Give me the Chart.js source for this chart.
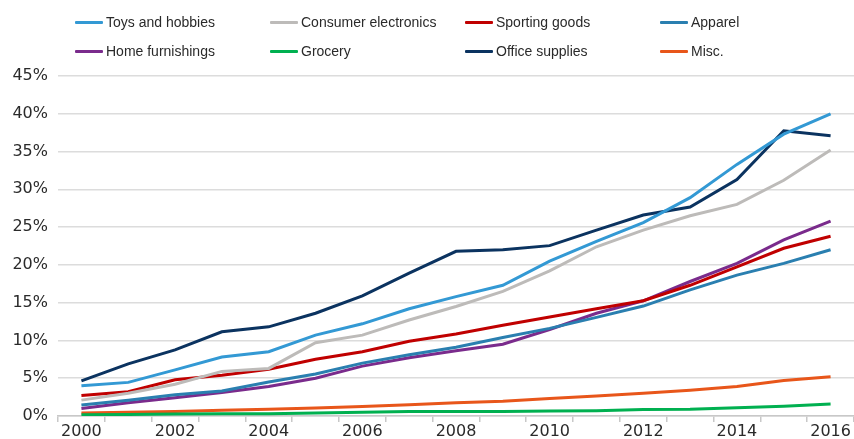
<!DOCTYPE html>
<html>
<head>
<meta charset="utf-8">
<script src="https://cdn.jsdelivr.net/npm/chart.js@4.4.0/dist/chart.umd.min.js"></script>
<style>
  html, body { margin: 0; padding: 0; background: #fff; }
  .wrap { position: relative; width: 854px; height: 439px; }
  .legend .item {
    position: absolute; height: 18px; display: flex; align-items: center;
    font: 14px "Liberation Sans", Arial, sans-serif; color: #2a2a2a;
    white-space: nowrap;
  }
  .legend .sw { width: 28px; height: 3px; margin-right: 3px; border-radius: 1px; }
</style>
</head>
<body>
<div class="wrap">
  <canvas id="myChart" width="854" height="439"></canvas>
  <div class="legend" id="legend"></div>
</div>
<script>
var years = ['2000','2001','2002','2003','2004','2005','2006','2007','2008','2009','2010','2011','2012','2013','2014','2015','2016'];
var yTicks = [0, 5, 10, 15, 20, 25, 30, 35, 40, 45];

var names = ['Toys and hobbies','Consumer electronics','Sporting goods','Apparel','Home furnishings','Grocery','Office supplies','Misc.'];
var colors = ['#3399d4','#bdbbb9','#c00000','#2a7fb0','#7a2b8c','#00b050','#0b3360','#e8561a'];

var toys     = [4.0, 4.45, 6.1, 7.8, 8.5, 10.7, 12.2, 14.2, 15.8, 17.3, 20.5, 23.1, 25.6, 28.9, 33.3, 37.3, 40.0];
var consumer = [2.1, 3.0, 4.2, 5.9, 6.3, 9.7, 10.7, 12.7, 14.5, 16.5, 19.2, 22.4, 24.6, 26.5, 28.0, 31.2, 35.2];
var sporting = [2.7, 3.2, 4.8, 5.4, 6.2, 7.5, 8.5, 9.9, 10.85, 12.0, 13.1, 14.2, 15.25, 17.3, 19.75, 22.2, 23.8];
var apparel  = [1.45, 2.1, 2.8, 3.3, 4.5, 5.55, 7.0, 8.1, 9.1, 10.4, 11.6, 13.05, 14.55, 16.7, 18.65, 20.2, 22.0];
var home     = [1.0, 1.75, 2.4, 3.1, 3.9, 5.0, 6.6, 7.7, 8.65, 9.5, 11.45, 13.6, 15.25, 17.8, 20.2, 23.3, 25.8];
var grocery  = [0.15, 0.2, 0.25, 0.3, 0.3, 0.4, 0.5, 0.6, 0.6, 0.6, 0.65, 0.7, 0.85, 0.9, 1.1, 1.3, 1.6];
var office   = [4.65, 6.9, 8.75, 11.15, 11.8, 13.6, 15.9, 18.9, 21.8, 22.0, 22.55, 24.6, 26.6, 27.65, 31.3, 37.75, 37.1];
var misc     = [0.4, 0.5, 0.6, 0.75, 0.9, 1.05, 1.25, 1.5, 1.75, 1.95, 2.3, 2.65, 3.0, 3.4, 3.9, 4.7, 5.2];

var series = [toys, consumer, sporting, apparel, home, grocery, office, misc];

// legend in html, 4 columns x 2 rows
var legend = document.getElementById('legend');
for (var i = 0; i < names.length; i++) {
  var col = i % 4, row = Math.floor(i / 4);
  var d = document.createElement('div');
  d.className = 'item';
  d.style.left = (75 + col * 195) + 'px';
  d.style.top = (13 + row * 29) + 'px';
  d.innerHTML = '<span class="sw" style="background:' + colors[i] + '"></span>' + names[i];
  legend.appendChild(d);
}

var sets = [];
for (var j = 0; j < series.length; j++) {
  sets.push({
    label: names[j],
    data: series[j],
    borderColor: colors[j],
    backgroundColor: colors[j],
    borderWidth: 3,
    pointRadius: 0,
    tension: 0,
    fill: false
  });
}

var tickFont = { family: 'DejaVu Sans', size: 16 };

new Chart(document.getElementById('myChart'), {
  type: 'line',
  data: { labels: years, datasets: sets },
  options: {
    responsive: false,
    animation: false,
    layout: { padding: { top: 76, right: 0, bottom: 0, left: 0 } },
    plugins: { legend: { display: false }, tooltip: { enabled: false } },
    scales: {
      x: {
        offset: true,
        grid: { offset: true, drawOnChartArea: false, drawTicks: true, tickLength: 6, color: '#c8c8c8', lineWidth: 1.5 },
        border: { display: true, color: '#c8c8c8', width: 1.5 },
        ticks: {
          autoSkip: false, maxRotation: 0, padding: 0, color: '#2a2a2a', font: tickFont,
          callback: function(v, idx) { return idx % 2 === 0 ? years[idx] : ''; }
        },
        afterFit: function(s) { s.height = 23; }
      },
      y: {
        min: 0, max: 45,
        afterBuildTicks: function(s) { s.ticks = yTicks.map(function(v) { return { value: v }; }); },
        grid: { drawTicks: false, color: '#dcdcdc', lineWidth: 1.5 },
        border: { display: false },
        ticks: { padding: 10, color: '#2a2a2a', font: tickFont, callback: function(v) { return v + '%'; } },
        afterFit: function(s) { s.width = 58; }
      }
    }
  }
});
</script>
</body>
</html>
